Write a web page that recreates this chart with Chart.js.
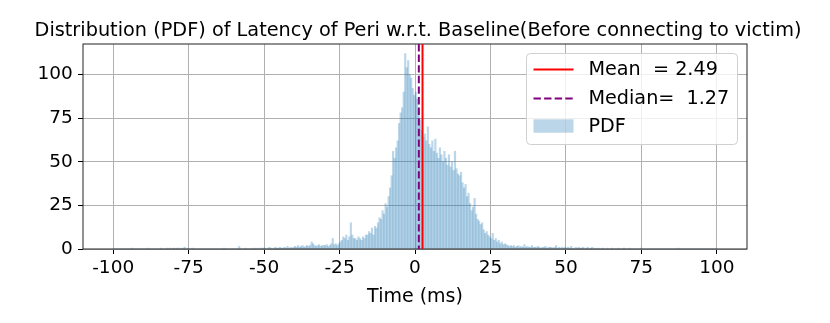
<!DOCTYPE html>
<html>
<head>
<meta charset="utf-8">
<script src="https://cdn.jsdelivr.net/npm/chart.js@4/dist/chart.umd.min.js"></script>
<style>
  html, body { margin: 0; padding: 0; background: #fff; }
  canvas { display: block; }
</style>
</head>
<body>
<canvas id="chart" width="830" height="323"></canvas>
<script>
// histogram bins: 0.5 ms wide, starting at -100 ms
const binStart = -100;
const binWidth = 0.5;
const pdfCounts = [
  0,0,0,0,0,0,0,0,0,0, 0,0,0.5,0,0,0,0,0,0,0,            // -100
  0,0,0,0.5,0,0,0,0,0,0, 0,0.5,0,0,0,0.5,0,0.5,0,0.5,    // -90
  0.5,0,0.5,0.5,0,0.5,0.5,1,0,0.5, 0,0,0.5,0,0,0,0,0,0,0, // -80
  0,0,0,0,0,0,0,0,0,0, 0,0,0,0.5,0,0,0,0,0,0,            // -70
  0,0,0,1.5,0,0,0,0.5,0,0, 0,0,0.5,0,0.5,0,0.5,0,0.5,0.5, // -60
  0.5,0,0.5,1,0.5,0,0.5,1,0.5,0.5, 1,0.5,0.5,1,0.5,1.5,0.5,1,0.5,1, // -50
  1.5,1,2,1,1.5,2,1,1.5,2,1.5, 2,4,3,2,1.5,2,2.5,1.5,2,2, // -40
  2,2.5,1.5,2,3,6,2.5,3,2,3, 4,5,7,6,8,5,7,15,8,6,       // -30
  6,5,7,6,5,7,6,8,8,10, 9,12,8,13,12,15,18,17,22,20,     // -20
  26,24,30,35,42,56,52,58,62,72, 78,81,90,112,104,108,100,98,92,88, // -10
  90,86,80,74,68,64,66,62,70,60, 58,62,56,63,55,52,58,54,50,56,     // 0
  52,48,54,47,50,45,56,46,43,42, 44,38,35,37,30,32,26,22,24,29,     // 10
  20,17,16,14,15,11,9,10,8,7, 6,9,5,6,4,5,3,4,2.5,3,     // 20
  2.5,2,1.5,2,1.5,2,1,1.5,2,1, 1.5,1,2.5,1,1.5,1,1,2,1,1, // 30
  1,1.5,1,0.5,1,1,1.5,0.5,1,1, 1,0.5,1,2,0.5,1,0.5,1,0.5,1, // 40
  0.5,1,0.5,1.5,0.5,0,1,0.5,1,0.5, 0.5,1,0,0.5,1,0,0.5,1,0,0.5, // 50
  0,0.5,0,0,0.5,0,0,0.5,0,0, 0.5,0,0,0,0.5,0,0,0,0.5,0, // 60
  0,0,0.5,0,0,0,0,0,0,0.5, 0,0,0,0,0,0,0,0,0,0,         // 70
  0,0,0,0,0,0,0,0,0,0, 0,0,0,0,0.5,0,0,0,0,0,           // 80
  0,0,0,0,0,0,0,0,0,0, 0,0,0,0,0,0,0,0,0,0              // 90
];
const meanValue = 2.49;
const medianValue = 1.27;
const xTickValues = [-100, -75, -50, -25, 0, 25, 50, 75, 100];
const yTickValues = [0, 25, 50, 75, 100];
const xRange = [-110, 110];
const yRange = [0, 117.5];
const chartTitle = 'Distribution (PDF) of Latency of Peri w.r.t. Baseline(Before connecting to victim)';

const points = pdfCounts.map((c, i) => ({ x: binStart + binWidth * (i + 0.5), y: c }));

const FONT = "'DejaVu Sans', 'Liberation Sans', sans-serif";
Chart.defaults.font.family = FONT;
Chart.defaults.color = '#000';

const BAR_COLOR = 'rgba(31,119,180,0.3)';
const MEAN_COLOR = '#ff0000';
const MEDIAN_COLOR = '#800080';
const MEDIAN_DASH = [7.4, 3.2];

// mean / median vertical lines + top/right spines
const statLines = {
  id: 'statLines',
  afterDatasetsDraw(chart) {
    const { ctx, chartArea: a, scales: { x } } = chart;
    ctx.save();
    ctx.strokeStyle = '#222';
    ctx.lineWidth = 1;
    ctx.strokeRect(a.left, a.top, a.right - a.left, a.bottom - a.top);

    ctx.lineWidth = 2;
    ctx.strokeStyle = MEAN_COLOR;
    let px = x.getPixelForValue(meanValue);
    ctx.beginPath(); ctx.moveTo(px, a.top); ctx.lineTo(px, a.bottom); ctx.stroke();

    ctx.strokeStyle = MEDIAN_COLOR;
    ctx.setLineDash(MEDIAN_DASH);
    px = x.getPixelForValue(medianValue);
    ctx.beginPath(); ctx.moveTo(px, a.top); ctx.lineTo(px, a.bottom); ctx.stroke();
    ctx.restore();
  }
};

// title centred over the axes, like matplotlib
const axesTitle = {
  id: 'axesTitle',
  afterDraw(chart) {
    const { ctx, chartArea: a } = chart;
    ctx.save();
    ctx.fillStyle = '#000';
    ctx.font = '19.3px ' + FONT;
    ctx.textAlign = 'center';
    ctx.textBaseline = 'alphabetic';
    ctx.fillText(chartTitle, (a.left + a.right) / 2 + 3, a.top - 8);
    ctx.restore();
  }
};

const legendBox = {
  id: 'legendBox',
  afterDraw(chart) {
    const { ctx, chartArea: a } = chart;
    const w = 211, h = 91;
    const x0 = a.right - 9.5 - w, y0 = a.top + 9.5;
    ctx.save();
    ctx.beginPath();
    ctx.roundRect(x0, y0, w, h, 4);
    ctx.fillStyle = 'rgba(255,255,255,0.8)';
    ctx.fill();
    ctx.strokeStyle = '#d0d0d0';
    ctx.lineWidth = 1;
    ctx.stroke();

    const hx = x0 + 7, hw = 40, tx = x0 + 62;
    const rows = [y0 + 16, y0 + 45, y0 + 72.5];
    ctx.lineWidth = 2;
    ctx.strokeStyle = MEAN_COLOR;
    ctx.beginPath(); ctx.moveTo(hx, rows[0]); ctx.lineTo(hx + hw, rows[0]); ctx.stroke();
    ctx.strokeStyle = MEDIAN_COLOR;
    ctx.setLineDash(MEDIAN_DASH);
    ctx.beginPath(); ctx.moveTo(hx, rows[1]); ctx.lineTo(hx + hw, rows[1]); ctx.stroke();
    ctx.setLineDash([]);
    ctx.fillStyle = BAR_COLOR;
    ctx.fillRect(hx, rows[2] - 6.7, hw, 13.4);

    ctx.fillStyle = '#000';
    ctx.font = '19.2px ' + FONT;
    ctx.textBaseline = 'middle';
    ctx.fillText('Mean  = ' + meanValue.toFixed(2), tx, rows[0] + 1);
    ctx.fillText('Median=  ' + medianValue.toFixed(2), tx, rows[1] + 1);
    ctx.fillText('PDF', tx, rows[2] + 1);
    ctx.restore();
  }
};

const gridOpts = { color: '#b0b0b0', lineWidth: 1, offset: false, drawTicks: true, tickLength: 5, tickColor: '#000' };

new Chart(document.getElementById('chart'), {
  type: 'bar',
  data: {
    datasets: [{
      label: 'PDF',
      data: points,
      backgroundColor: BAR_COLOR,
      borderWidth: 0,
      barPercentage: 1,
      categoryPercentage: 1
    }]
  },
  options: {
    responsive: false,
    animation: false,
    layout: { padding: { left: 0, right: 83, top: 44, bottom: 0 } },
    plugins: {
      legend: { display: false },
      tooltip: { enabled: false },
      title: { display: false }
    },
    scales: {
      x: {
        type: 'linear',
        min: xRange[0],
        max: xRange[1],
        offset: false,
        grid: gridOpts,
        border: { display: false },
        afterBuildTicks: s => { s.ticks = xTickValues.map(v => ({ value: v })); },
        afterFit: s => { s.height = 74; },
        ticks: { font: { size: 18.5 }, color: '#000', padding: 3, maxRotation: 0, autoSkip: false, callback: v => String(v) },
        title: { display: true, text: 'Time (ms)', font: { size: 19 }, color: '#000', padding: { top: 0, bottom: 15 } }
      },
      y: {
        type: 'linear',
        min: yRange[0],
        max: yRange[1],
        grid: gridOpts,
        border: { display: false },
        afterBuildTicks: s => { s.ticks = yTickValues.map(v => ({ value: v })); },
        afterFit: s => { s.width = 83; },
        ticks: { font: { size: 18.5 }, color: '#000', padding: 5.3, autoSkip: false, callback: v => String(v) }
      }
    }
  },
  plugins: [statLines, axesTitle, legendBox]
});
</script>
</body>
</html>
